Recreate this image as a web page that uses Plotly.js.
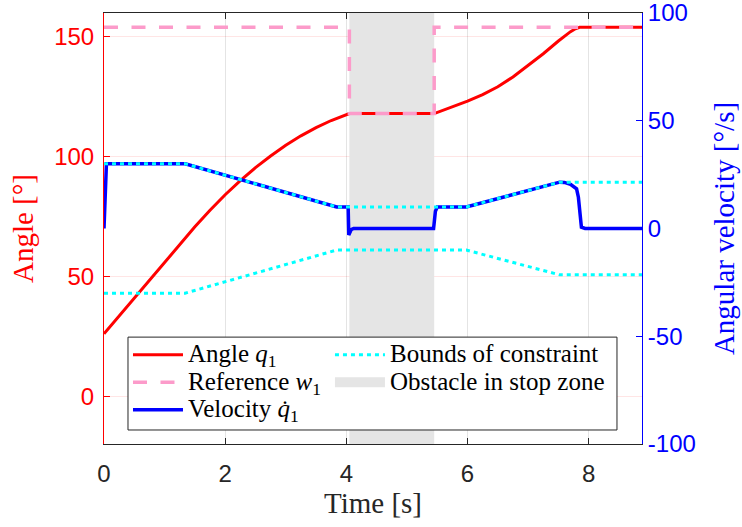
<!DOCTYPE html>
<html>
<head>
<meta charset="utf-8">
<script src="https://cdn.plot.ly/plotly-3.0.1.min.js"></script>
<style>html,body{margin:0;padding:0;background:#fff;}#chart{width:742px;height:527px;}</style>
</head>
<body>
<div id="chart"></div>
<script>
// ---- data ----
const tAngle = [0, 0.25, 0.5, 0.75, 1.0, 1.25, 1.5, 1.75, 2.0, 2.25, 2.5, 2.75, 3.0, 3.25, 3.5, 3.75, 3.9, 4.05, 5.45, 5.6, 5.75, 6.0, 6.25, 6.5, 6.75, 7.0, 7.25, 7.5, 7.6, 7.7, 7.78, 7.85, 8.88];
const angle  = [26, 33.5, 41, 48.5, 56, 63.5, 70.7, 77.6, 84.1, 90.0, 95.4, 100.3, 104.8, 108.7, 112.1, 115.1, 116.6, 118, 118, 119.4, 120.8, 123.2, 125.9, 129.2, 133.3, 138, 143, 148.3, 150.3, 152.2, 153.4, 154, 154];

const tRef = [0, 4.05, 4.05, 5.45, 5.45, 8.88];
const reference = [154, 154, 118, 118, 154, 154];

const tVel = [0, 0.04, 1.34, 3.84, 4.03, 4.04, 4.08, 4.12, 5.44, 5.47, 5.5, 5.98, 7.52, 7.6, 7.7, 7.8, 7.83, 7.85, 7.88, 7.94, 8.88];
const velocity = [0, 30, 30, 10, 10, -3, -0.5, 0, 0, 8, 10, 10, 21.5, 21.4, 20.5, 18.4, 14.5, 6.8, 0.6, 0, 0];

const tBound = [0, 1.34, 3.84, 5.98, 7.52, 8.88];
const boundUpper = [30, 30, 10, 10, 21.5, 21.5];
const boundLower = [-30, -30, -10, -10, -21.5, -21.5];

const obstacleT = [4.05, 5.45];
const xRange = [0, 8.88];
const yLeftRange = [-20, 160];
const yRightRange = [-100, 100];
const xTicks = [0, 2, 4, 6, 8];
const yLeftTicks = [0, 50, 100, 150];
const yRightTicks = [-100, -50, 0, 50, 100];
const yRightTickText = ['-100', '-50', '0', '50', '100'];

const serif = 'Liberation Serif, DejaVu Serif, serif';
const sans = 'Liberation Sans, Arial, sans-serif';
const big = s => '<span style="font-size:25px">' + s + '</span>';
const obstacleGrey = 'rgb(229,229,229)';

const traces = [
  {
    name: 'Obstacle in stop zone', showlegend: false,
    x: [obstacleT[0], obstacleT[1], obstacleT[1], obstacleT[0], obstacleT[0]],
    y: [yLeftRange[0], yLeftRange[0], yLeftRange[1], yLeftRange[1], yLeftRange[0]],
    type: 'scatter', mode: 'lines', fill: 'toself', fillcolor: obstacleGrey,
    line: {width: 0, color: 'rgba(0,0,0,0)'}, yaxis: 'y', hoverinfo: 'skip'
  },
  {
    // legend key for the obstacle patch (no data of its own)
    name: big('Obstacle in stop zone'), legend: 'legend2', legendrank: 2,
    x: [null], y: [null], type: 'scatter', mode: 'lines',
    line: {width: 20, color: obstacleGrey}, yaxis: 'y', hoverinfo: 'skip'
  },
  {
    name: big('Angle <i>q</i><sub>1</sub>'), legend: 'legend', legendrank: 1,
    x: tAngle, y: angle, type: 'scatter', mode: 'lines',
    line: {color: 'rgb(255,0,0)', width: 3}, yaxis: 'y'
  },
  {
    name: big('Reference <i>w</i><sub>1</sub>'), legend: 'legend', legendrank: 2,
    x: tRef, y: reference, type: 'scatter', mode: 'lines',
    line: {color: 'rgb(252,155,202)', width: 3.5, dash: '14px,13.5px'}, yaxis: 'y'
  },
  {
    name: big('Velocity <i>q̇</i><sub>1</sub>'), legend: 'legend', legendrank: 3,
    x: tVel, y: velocity, type: 'scatter', mode: 'lines',
    line: {color: 'rgb(0,0,255)', width: 3.5}, yaxis: 'y2'
  },
  {
    name: big('Bounds of constraint'), legend: 'legend2', legendrank: 1,
    x: tBound, y: boundUpper, type: 'scatter', mode: 'lines',
    line: {color: 'rgb(0,255,255)', width: 3, dash: '4px,4px'}, yaxis: 'y2'
  },
  {
    name: 'Bounds lower', showlegend: false,
    x: tBound, y: boundLower, type: 'scatter', mode: 'lines',
    line: {color: 'rgb(0,255,255)', width: 3, dash: '4px,4px'}, yaxis: 'y2'
  }
];

const legendCommon = {
  xanchor: 'left', yanchor: 'top', orientation: 'v',
  bgcolor: 'rgba(0,0,0,0)', borderwidth: 0, itemwidth: 50,
  font: {family: serif, size: 18.8, color: '#000'}, traceorder: 'normal'
};

const layout = {
  width: 742, height: 527,
  margin: {l: 104, r: 100, t: 13, b: 83},
  paper_bgcolor: '#fff', plot_bgcolor: '#fff',
  showlegend: true,
  xaxis: {
    range: xRange, tickvals: xTicks, ticks: 'inside', ticklen: 6, tickcolor: '#262626',
    showline: true, linecolor: '#262626', linewidth: 1, mirror: 'ticks',
    showgrid: true, gridcolor: 'rgb(228,228,228)', zeroline: false,
    tickfont: {family: sans, size: 24, color: '#262626'}, ticklabelstandoff: 8,
    title: {text: 'Time [s]', font: {family: serif, size: 29, color: '#262626'}, standoff: 4}
  },
  yaxis: {
    range: yLeftRange, tickvals: yLeftTicks, ticks: 'inside', ticklen: 6, tickcolor: 'rgb(255,0,0)',
    showline: true, linecolor: 'rgb(255,0,0)', linewidth: 1,
    showgrid: true, gridcolor: 'rgba(255,0,0,0.1)', zeroline: false,
    tickfont: {family: sans, size: 24, color: 'rgb(255,0,0)'}, ticklabelstandoff: 4,
    ticklabeloverflow: 'allow',
    title: {text: 'Angle [°]', font: {family: serif, size: 29, color: 'rgb(255,0,0)'}, standoff: 12}
  },
  yaxis2: {
    range: yRightRange, tickvals: yRightTicks, ticktext: yRightTickText, overlaying: 'y', side: 'right',
    ticks: 'inside', ticklen: 6, tickcolor: 'rgb(0,0,255)',
    showline: true, linecolor: 'rgb(0,0,255)', linewidth: 1,
    showgrid: false, zeroline: false,
    tickfont: {family: sans, size: 24, color: 'rgb(0,0,255)'}, ticklabelstandoff: 0,
    ticklabeloverflow: 'allow',
    title: {text: 'Angular velocity [°/s]', font: {family: serif, size: 29, color: 'rgb(0,0,255)'}, standoff: 18}
  },
  legend: Object.assign({x: 0.0446, y: 0.2505}, legendCommon),
  legend2: Object.assign({x: 0.42, y: 0.2505}, legendCommon),
  shapes: [{
    type: 'rect', xref: 'paper', yref: 'paper', layer: 'above',
    x0: 0.0446, x1: 0.9535, y0: 0.0325, y1: 0.248,
    fillcolor: '#fff', line: {color: '#262626', width: 1}
  }]
};

Plotly.newPlot('chart', traces, layout, {displayModeBar: false, staticPlot: true});
</script>
</body>
</html>
